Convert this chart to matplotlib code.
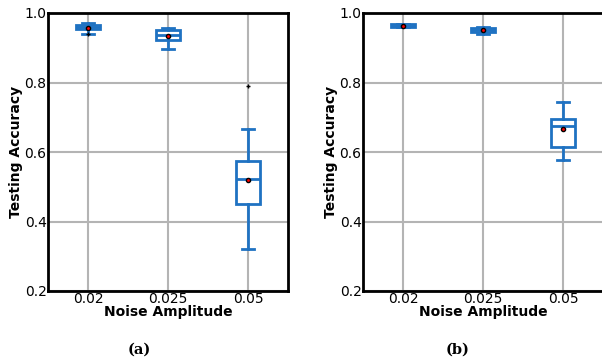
import matplotlib.pyplot as plt

# категории и статистика боксплотов
noise = ["0.02", "0.025", "0.05"]

# панель (a)
a_whislo = [0.941, 0.896, 0.321]
a_q1 = [0.953, 0.922, 0.450]
a_med = [0.960, 0.938, 0.522]
a_q3 = [0.966, 0.951, 0.575]
a_whishi = [0.970, 0.957, 0.666]
a_mean = [0.957, 0.935, 0.518]
a_fliers = [[0.939], [], [0.790]]

# панель (b)
b_whislo = [0.959, 0.941, 0.577]
b_q1 = [0.960, 0.946, 0.615]
b_med = [0.964, 0.952, 0.674]
b_q3 = [0.967, 0.958, 0.696]
b_whishi = [0.969, 0.961, 0.743]
b_mean = [0.963, 0.951, 0.665]
b_fliers = [[], [], []]

blue = "#1f72c2"


def make_stats(lo, q1, med, q3, hi, mean, fl):
    return [dict(whislo=lo[i], q1=q1[i], med=med[i], q3=q3[i], whishi=hi[i],
                 mean=mean[i], fliers=fl[i], label=noise[i])
            for i in range(len(noise))]


def draw(ax, stats):
    ax.bxp(stats, positions=[1, 2, 3], widths=0.3, showmeans=True,
           patch_artist=True,
           boxprops=dict(facecolor="white", edgecolor=blue, linewidth=2),
           medianprops=dict(color=blue, linewidth=2),
           whiskerprops=dict(color=blue, linewidth=2),
           capprops=dict(color=blue, linewidth=2),
           flierprops=dict(marker="+", markeredgecolor="black", markersize=3),
           meanprops=dict(marker="o", markerfacecolor="red",
                          markeredgecolor="black", markersize=3))
    ax.set_xlim(0.5, 3.5)
    ax.set_ylim(0.2, 1.0)
    ax.set_yticks([0.2, 0.4, 0.6, 0.8, 1.0])
    ax.set_xticks([1, 2, 3])
    ax.set_xticklabels(noise)
    ax.grid(True, color="#b4b4b4", linewidth=1.5)
    ax.set_axisbelow(True)
    ax.tick_params(length=0, labelsize=10, pad=1)
    for s in ax.spines.values():
        s.set_linewidth(2)
        s.set_color("black")
    ax.set_xlabel("Noise Amplitude", fontweight="bold", fontsize=10, labelpad=-1)
    ax.set_ylabel("Testing Accuracy", fontweight="bold", fontsize=10, labelpad=1)


fig = plt.figure(figsize=(6.02, 3.62), dpi=100)
ax1 = fig.add_axes([48 / 602, 71 / 362, 240 / 602, 278 / 362])
ax2 = fig.add_axes([363 / 602, 71 / 362, 240 / 602, 278 / 362])

draw(ax1, make_stats(a_whislo, a_q1, a_med, a_q3, a_whishi, a_mean, a_fliers))
draw(ax2, make_stats(b_whislo, b_q1, b_med, b_q3, b_whishi, b_mean, b_fliers))

fig.text(139 / 602, 1 - 350 / 362, "(a)", ha="center", va="center",
         family="DejaVu Serif", fontweight="bold", fontsize=10.5)
fig.text(458 / 602, 1 - 350 / 362, "(b)", ha="center", va="center",
         family="DejaVu Serif", fontweight="bold", fontsize=10.5)

fig.savefig("out.png", dpi=100)
